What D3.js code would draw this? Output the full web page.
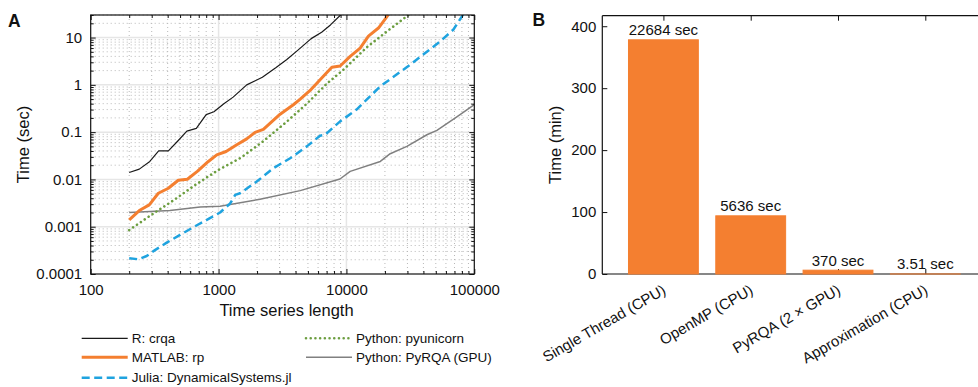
<!DOCTYPE html>
<html><head><meta charset="utf-8">
<script src="https://cdn.jsdelivr.net/npm/d3@7"></script>
<style>
body{margin:0;background:#fff}
text{font-family:"Liberation Sans",Arial,Helvetica,sans-serif;fill:#111}
</style>
</head><body>
<svg id="c" width="978" height="387"></svg>
<script>
// ---------------- DATA: panel A (time in seconds vs. time series length) ----------------
const crqaN = [200, 240, 290, 340, 405, 480, 565, 670, 800, 920, 1100, 1300, 1660, 2200, 2800, 3400, 4200, 5300, 6400, 7500, 9000, 9600];
const crqaT = [0.014, 0.0165, 0.024, 0.040, 0.040, 0.065, 0.105, 0.12, 0.235, 0.27, 0.40, 0.55, 1.0, 1.45, 2.3, 3.4, 5.5, 9.5, 13, 18.5, 30, 36];

const rpN = [200, 240, 287, 338, 405, 484, 570, 682, 832, 968, 1145, 1388, 1660, 1930, 2240, 3030, 3845, 4350, 5200, 6410, 7690, 8930, 10700, 12800, 14860, 17800, 20400, 21800];
const rpT = [0.0014, 0.0022, 0.0029, 0.0051, 0.0065, 0.0096, 0.0101, 0.0148, 0.024, 0.033, 0.039, 0.054, 0.072, 0.099, 0.114, 0.24, 0.38, 0.50, 0.76, 1.4, 2.35, 2.5, 4.0, 6.0, 10.7, 15.9, 26, 34];

const juliaN = [200, 236, 274, 318, 393, 500, 636, 809, 1028, 1232, 1350, 1473, 1990, 2690, 3630, 4900, 6220, 6810, 8930, 12000, 18400, 31600, 54100, 68700, 80000, 84000];
const juliaT = [0.000215, 0.000205, 0.00024, 0.00032, 0.00046, 0.00067, 0.00098, 0.00139, 0.002, 0.0031, 0.0047, 0.0051, 0.009, 0.0174, 0.028, 0.05, 0.084, 0.088, 0.169, 0.30, 0.93, 2.68, 8.3, 14.8, 28, 35];

const pyunicornN = [200, 300, 450, 650, 1000, 1500, 2200, 3400, 5000, 7000, 9500, 14500, 20000, 31000, 33000];
const pyunicornT = [0.00085, 0.0018, 0.0037, 0.0075, 0.016, 0.029, 0.062, 0.165, 0.42, 1.05, 2.1, 6.3, 12.5, 31, 36];

const pyrqaN = [200, 290, 416, 717, 1028, 2110, 4350, 8900, 10700, 18400, 22000, 29700, 42600, 51000, 73000, 100000];
const pyrqaT = [0.0020, 0.0021, 0.0022, 0.0026, 0.0027, 0.0038, 0.0058, 0.0102, 0.0148, 0.024, 0.035, 0.05, 0.088, 0.109, 0.21, 0.38];

const legendLabels = ["R: crqa", "MATLAB: rp", "Julia: DynamicalSystems.jl", "Python: pyunicorn", "Python: PyRQA (GPU)"];
const xTicksA = [100, 1000, 10000, 100000];
const xTickLabelsA = ["100", "1000", "10000", "100000"];
const yTicksA = [0.0001, 0.001, 0.01, 0.1, 1, 10];
const yTickLabelsA = ["0.0001", "0.001", "0.01", "0.1", "1", "10"];

// ---------------- DATA: panel B ----------------
const barCats = ["Single Thread (CPU)", "OpenMP (CPU)", "PyRQA (2 \u00d7 GPU)", "Approximation (CPU)"];
const barMinutes = [378.07, 93.93, 6.17, 0.0585];
const barLabels = ["22684 sec", "5636 sec", "370 sec", "3.51 sec"];
const yTicksB = [0, 100, 200, 300, 400];

// ---------------- DRAW ----------------
const svg = d3.select("#c");
const FONT = 15;

// ===== Panel A =====
const A = {l: 90.7, r: 474.3, t: 15, b: 274};
const xA = d3.scaleLog().domain([100, 100000]).range([A.l, A.r]);
const yA = d3.scaleLog().domain([0.0001, 30]).range([A.b, A.t]);

const minorXA = [], minorYA = [];
[100, 1000, 10000].forEach(d => { for (let k = 2; k <= 9; k++) minorXA.push(k * d); });
[0.0001, 0.001, 0.01, 0.1, 1, 10].forEach(d => { for (let k = 2; k <= 9; k++) if (k * d <= 30) minorYA.push(k * d); });

const gA = svg.append("g");
// minor grid (dotted)
gA.append("g").selectAll("line").data(minorXA).join("line")
  .attr("x1", d => xA(d)).attr("x2", d => xA(d)).attr("y1", A.t).attr("y2", A.b)
  .attr("stroke", "#b8b8b8").attr("stroke-width", 1).attr("stroke-dasharray", "1,3");
gA.append("g").selectAll("line").data(minorYA).join("line")
  .attr("y1", d => yA(d)).attr("y2", d => yA(d)).attr("x1", A.l).attr("x2", A.r)
  .attr("stroke", "#b8b8b8").attr("stroke-width", 1).attr("stroke-dasharray", "1,3");
// major grid (solid light)
gA.append("g").selectAll("line").data(xTicksA.slice(1, 3)).join("line")
  .attr("x1", d => xA(d)).attr("x2", d => xA(d)).attr("y1", A.t).attr("y2", A.b)
  .attr("stroke", "#e6e6e6").attr("stroke-width", 1.5);
gA.append("g").selectAll("line").data(yTicksA.slice(1)).join("line")
  .attr("y1", d => yA(d)).attr("y2", d => yA(d)).attr("x1", A.l).attr("x2", A.r)
  .attr("stroke", "#e6e6e6").attr("stroke-width", 1.5);

// clip
svg.append("defs").append("clipPath").attr("id", "clipA")
  .append("rect").attr("x", A.l).attr("y", A.t).attr("width", A.r - A.l).attr("height", A.b - A.t);

const series = [
  {n: crqaN, t: crqaT, color: "#1a1a1a", w: 1.2, dash: null, cap: "butt"},
  {n: rpN, t: rpT, color: "#f47f30", w: 3, dash: null, cap: "butt"},
  {n: juliaN, t: juliaT, color: "#1fa3df", w: 2.5, dash: "8,4.5", cap: "butt"},
  {n: pyunicornN, t: pyunicornT, color: "#6c9e40", w: 2.6, dash: "0.01,4.7", cap: "round"},
  {n: pyrqaN, t: pyrqaT, color: "#808080", w: 1.5, dash: null, cap: "butt"}
];
const lineGen = d3.line().x(d => xA(d[0])).y(d => yA(d[1]));
const drawOrder = [4, 3, 2, 1, 0];
const gLines = gA.append("g").attr("clip-path", "url(#clipA)");
drawOrder.forEach(i => {
  const s = series[i];
  gLines.append("path").datum(s.n.map((v, j) => [v, s.t[j]]))
    .attr("d", lineGen).attr("fill", "none").attr("stroke", s.color)
    .attr("stroke-width", s.w).attr("stroke-dasharray", s.dash)
    .attr("stroke-linecap", s.cap).attr("stroke-linejoin", "round");
});

// box
gA.append("rect").attr("x", A.l).attr("y", A.t).attr("width", A.r - A.l).attr("height", A.b - A.t)
  .attr("fill", "none").attr("stroke", "#111").attr("stroke-width", 1.2);

function styleAxis(g) {
  g.select(".domain").remove();
  g.selectAll(".tick line").attr("stroke", "#111").attr("stroke-width", 1);
  g.selectAll("text").attr("font-size", FONT).style("font-family", "'Liberation Sans',Arial,sans-serif").attr("fill", "#111");
}
// bottom major
gA.append("g").attr("transform", `translate(0,${A.b})`)
  .call(d3.axisBottom(xA).tickValues(xTicksA).tickSize(-5).tickPadding(10).tickFormat((d, i) => xTickLabelsA[i]))
  .call(styleAxis);
gA.append("g").attr("transform", `translate(0,${A.b})`)
  .call(d3.axisBottom(xA).tickValues(minorXA).tickSize(-3).tickFormat(""))
  .call(styleAxis);
// top
gA.append("g").attr("transform", `translate(0,${A.t})`)
  .call(d3.axisTop(xA).tickValues(xTicksA).tickSize(-5).tickFormat(""))
  .call(styleAxis);
gA.append("g").attr("transform", `translate(0,${A.t})`)
  .call(d3.axisTop(xA).tickValues(minorXA).tickSize(-3).tickFormat(""))
  .call(styleAxis);
// left
gA.append("g").attr("transform", `translate(${A.l},0)`)
  .call(d3.axisLeft(yA).tickValues(yTicksA).tickSize(-5).tickPadding(8.5).tickFormat((d, i) => yTickLabelsA[i]))
  .call(styleAxis);
gA.append("g").attr("transform", `translate(${A.l},0)`)
  .call(d3.axisLeft(yA).tickValues(minorYA).tickSize(-3).tickFormat(""))
  .call(styleAxis);
// right
gA.append("g").attr("transform", `translate(${A.r},0)`)
  .call(d3.axisRight(yA).tickValues(yTicksA).tickSize(-5).tickFormat(""))
  .call(styleAxis);
gA.append("g").attr("transform", `translate(${A.r},0)`)
  .call(d3.axisRight(yA).tickValues(minorYA).tickSize(-3).tickFormat(""))
  .call(styleAxis);

// titles
svg.append("text").attr("x", (A.l + A.r) / 2 + 4).attr("y", 316).attr("text-anchor", "middle")
  .attr("font-size", 16.5).text("Time series length");
svg.append("text").attr("transform", `translate(29,${(A.t + A.b) / 2}) rotate(-90)`).attr("text-anchor", "middle")
  .attr("font-size", 16.5).text("Time (sec)");
svg.append("text").attr("x", 8).attr("y", 26.5).attr("font-size", 17.5).attr("font-weight", "bold").text("A");

// legend
const legPos = [
  {x: 81.7, y: 338.3}, {x: 81.7, y: 357.3}, {x: 81.7, y: 377.7},
  {x: 306, y: 338.3}, {x: 306, y: 357.3}
];
const gL = svg.append("g");
series.forEach((s, i) => {
  const p = legPos[i];
  gL.append("line").attr("x1", p.x).attr("x2", p.x + 46).attr("y1", p.y).attr("y2", p.y)
    .attr("stroke", s.color).attr("stroke-width", s.w).attr("stroke-dasharray", s.dash)
    .attr("stroke-linecap", s.cap);
  gL.append("text").attr("x", p.x + 50).attr("y", p.y).attr("dy", "0.35em")
    .attr("font-size", 13.5).text(legendLabels[i]);
});

// ===== Panel B =====
const B = {l: 602.3, t: 15.7, b: 274};
const xB = d3.scaleLinear().domain([0.3, 4.7]).range([B.l, B.l + 4.4 * 87.3]);
const yB = d3.scaleLinear().domain([0, 417]).range([B.b, B.t]);
const gB = svg.append("g");
const bw = 0.8 * (xB(2) - xB(1));

// frame lines
gB.append("line").attr("x1", B.l).attr("x2", xB(4.7)).attr("y1", B.t).attr("y2", B.t).attr("stroke", "#111").attr("stroke-width", 1.2);
gB.append("line").attr("x1", B.l).attr("x2", xB(4.7)).attr("y1", B.b).attr("y2", B.b).attr("stroke", "#111").attr("stroke-width", 1.2);
gB.append("line").attr("x1", B.l).attr("x2", B.l).attr("y1", B.t).attr("y2", B.b).attr("stroke", "#111").attr("stroke-width", 1.2);

gB.append("g").attr("transform", `translate(${B.l},0)`)
  .call(d3.axisLeft(yB).tickValues(yTicksB).tickSize(-5).tickPadding(6).tickFormat(d3.format("d")))
  .call(styleAxis);
gB.append("g").attr("transform", `translate(0,${B.t})`)
  .call(d3.axisTop(xB).tickValues([1, 2, 3, 4]).tickSize(-5).tickFormat(""))
  .call(styleAxis);
const bx = gB.append("g").attr("transform", `translate(0,${B.b})`)
  .call(d3.axisBottom(xB).tickValues([1, 2, 3, 4]).tickSize(-5).tickFormat((d, i) => barCats[i]))
  .call(styleAxis);
bx.selectAll("text").attr("y", 0).attr("dy", 0)
  .attr("transform", "translate(3,19) rotate(-30)").style("text-anchor", "end");

// bars
gB.append("g").selectAll("rect").data(barMinutes).join("rect")
  .attr("x", (d, i) => xB(i + 1) - bw / 2).attr("width", bw)
  .attr("y", d => yB(d)).attr("height", d => B.b - yB(d))
  .attr("fill", "#f47f30").attr("stroke", "#f47f30").attr("stroke-width", 1);
gB.append("g").selectAll("text").data(barMinutes).join("text")
  .attr("x", (d, i) => xB(i + 1)).attr("y", d => yB(d) - 4.5)
  .attr("text-anchor", "middle").attr("font-size", FONT).text((d, i) => barLabels[i]);

svg.append("text").attr("transform", `translate(561,${(B.t + B.b) / 2}) rotate(-90)`).attr("text-anchor", "middle")
  .attr("font-size", 16.5).text("Time (min)");
svg.append("text").attr("x", 532.5).attr("y", 25.5).attr("font-size", 17.5).attr("font-weight", "bold").text("B");
</script>
</body></html>
